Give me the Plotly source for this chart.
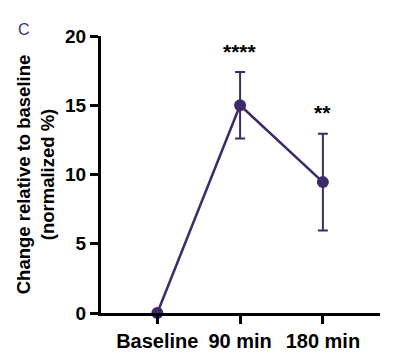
import plotly.graph_objects as go

categories = ["Baseline", "90 min", "180 min"]
values = [0, 15.0, 9.45]
errors = [0, 2.4, 3.5]
stars = ["", "****", "**"]
y_ticks = [0, 5, 10, 15, 20]

color = "#3d2a6b"
fig = go.Figure()
fig.add_trace(go.Scatter(
    x=[0, 1, 2], y=values, mode="lines+markers",
    line=dict(color=color, width=2.5),
    marker=dict(color=color, size=12),
    error_y=dict(type="data", array=errors, color=color, thickness=2, width=5, visible=True),
    cliponaxis=False, showlegend=False,
))
for i, s in enumerate(stars):
    if s:
        fig.add_annotation(x=i, y=values[i] + errors[i], text=s, showarrow=False,
                           yshift=21, font=dict(family="Liberation Sans", size=21, color="black",
                                                weight="bold"))

fig.add_annotation(xref="paper", yref="paper", x=-0.276, y=1.025, text="C", showarrow=False,
                   xanchor="center", yanchor="middle",
                   font=dict(family="Liberation Sans", size=16, color="#3b3170"))

fig.update_layout(
    width=400, height=358,
    margin=dict(l=93, r=28, t=28, b=53),
    plot_bgcolor="white", paper_bgcolor="white",
    font=dict(family="Liberation Sans", color="black"),
    xaxis=dict(range=[-0.68, 2.69], tickmode="array", tickvals=[0, 1, 2], ticktext=categories,
               showline=True, linecolor="black", linewidth=3, ticks="outside", ticklen=8,
               tickwidth=3, tickcolor="black", showgrid=False, zeroline=False, automargin=False,
               tickfont=dict(family="Liberation Sans", size=20, color="black", weight="bold")),
    yaxis=dict(range=[0, 20], tickvals=y_ticks, showline=True, linecolor="black", linewidth=3,
               ticks="outside", ticklen=8, tickwidth=3, tickcolor="black", showgrid=False,
               zeroline=False, automargin=False,
               tickfont=dict(family="Liberation Sans", size=19, color="black", weight="bold"),
               title=dict(text="Change relative to baseline<br>(normalized %)", standoff=6,
                          font=dict(family="Liberation Sans", size=18.5, color="black", weight="bold"))),
)
fig.write_html("out.html")
